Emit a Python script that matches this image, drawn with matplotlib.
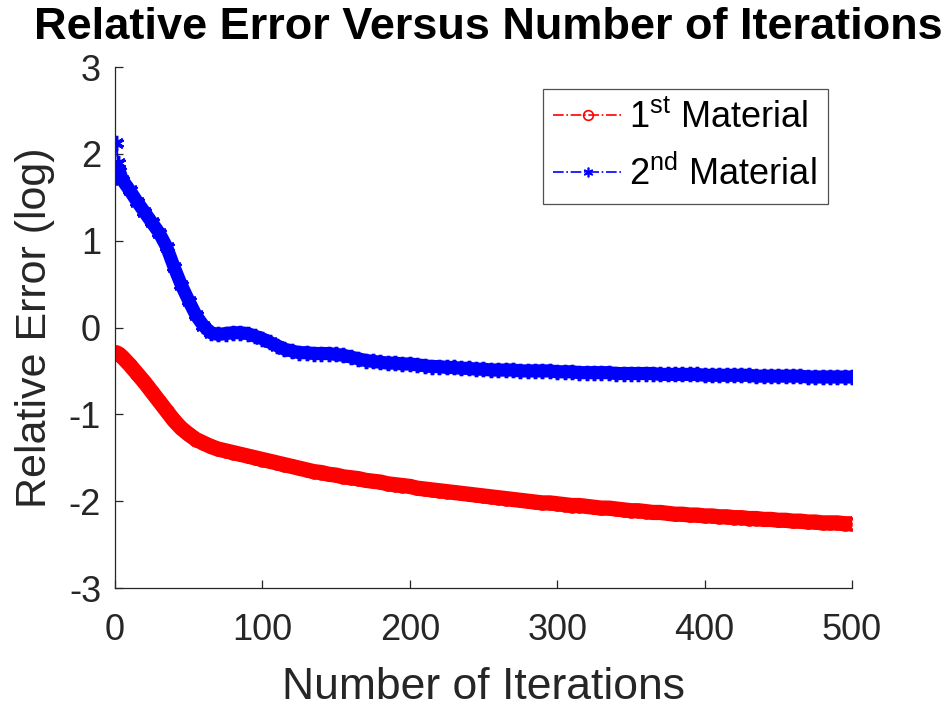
import matplotlib
matplotlib.use('Agg')
import matplotlib.pyplot as plt
import numpy as np

plt.rcParams['font.family'] = ['Liberation Sans', 'DejaVu Sans']
plt.rcParams['mathtext.fontset'] = 'custom'
plt.rcParams['mathtext.rm'] = 'Liberation Sans'
plt.rcParams['mathtext.it'] = 'Liberation Sans:italic'
plt.rcParams['mathtext.bf'] = 'Liberation Sans:bold'
plt.rcParams['axes.unicode_minus'] = False

iters = [1, 2, 3] + list(range(5, 501, 5))

# 1st material, relative error (log)
err_1st = [-0.29, -0.30, -0.31,
           -0.34, -0.43, -0.53, -0.63, -0.74, -0.85, -0.96, -1.07, -1.16, -1.23,
           -1.29, -1.33, -1.37, -1.40, -1.42, -1.44, -1.46, -1.48, -1.50, -1.52,
           -1.54, -1.56, -1.58, -1.60, -1.62, -1.64, -1.66, -1.67, -1.69, -1.70,
           -1.72, -1.73, -1.74, -1.76, -1.77, -1.78, -1.80, -1.81, -1.82, -1.83,
           -1.85, -1.86, -1.87, -1.88, -1.89, -1.90, -1.91, -1.92, -1.93, -1.94,
           -1.95, -1.96, -1.97, -1.98, -1.99, -2.00, -2.01, -2.02, -2.02, -2.03,
           -2.04, -2.05, -2.05, -2.06, -2.07, -2.08, -2.08, -2.09, -2.10, -2.11,
           -2.11, -2.12, -2.13, -2.13, -2.14, -2.15, -2.15, -2.16, -2.16, -2.17,
           -2.17, -2.18, -2.18, -2.19, -2.19, -2.20, -2.20, -2.21, -2.21, -2.22,
           -2.22, -2.23, -2.23, -2.24, -2.24, -2.25, -2.25, -2.25, -2.26, -2.26]

# 2nd material, relative error (log)
err_2nd = [2.12, 1.90, 1.80,
           1.70, 1.58, 1.45, 1.33, 1.21, 1.09, 0.93, 0.70, 0.49, 0.31,
           0.14, 0.02, -0.06, -0.08, -0.07, -0.06, -0.06, -0.07, -0.10, -0.13,
           -0.17, -0.21, -0.25, -0.27, -0.29, -0.29, -0.30, -0.30, -0.30, -0.31,
           -0.32, -0.34, -0.36, -0.38, -0.39, -0.40, -0.41, -0.41, -0.42, -0.42,
           -0.43, -0.44, -0.45, -0.45, -0.46, -0.46, -0.47, -0.47, -0.48, -0.48,
           -0.49, -0.49, -0.49, -0.49, -0.50, -0.50, -0.50, -0.50, -0.50, -0.51,
           -0.51, -0.51, -0.52, -0.52, -0.52, -0.52, -0.52, -0.53, -0.53, -0.53,
           -0.53, -0.53, -0.53, -0.54, -0.54, -0.54, -0.54, -0.54, -0.54, -0.55,
           -0.55, -0.55, -0.55, -0.55, -0.55, -0.55, -0.56, -0.56, -0.56, -0.56,
           -0.56, -0.56, -0.56, -0.57, -0.57, -0.57, -0.57, -0.57, -0.57, -0.57]

xticks = [0, 100, 200, 300, 400, 500]
yticks = [-3, -2, -1, 0, 1, 2, 3]

asterisk = (6, 2, 0)
dark = '#262626'

fig = plt.figure(figsize=(9.47, 7.07), dpi=100)
ax = fig.add_axes([0.1214, 0.1683, 0.7783, 0.7369])

# dense markers in the original merge into a thick band
ax.plot(iters, err_1st, color='red', linewidth=11, solid_capstyle='round',
        solid_joinstyle='round')
ax.plot(iters[2:], err_2nd[2:], color='blue', linewidth=9.5, solid_capstyle='round',
        solid_joinstyle='round')

ax.plot(iters, err_1st, 'r-.', marker='o', markersize=8, markeredgewidth=2.5,
        markerfacecolor='none', linewidth=1.5, label=r'1$^{\rm st}$ Material')
ax.plot(iters, err_2nd, 'b-.', marker=asterisk, markersize=11, markeredgewidth=2.5,
        linewidth=1.5, label=r'2$^{\rm nd}$ Material')

ax.set_xlim(0, 500)
ax.set_ylim(-3, 3)
ax.set_xticks(xticks)
ax.set_yticks(yticks)

for s in ['top', 'right']:
    ax.spines[s].set_visible(False)
for s in ['left', 'bottom']:
    ax.spines[s].set_color(dark)
    ax.spines[s].set_linewidth(0.9)

ax.tick_params(axis='both', direction='in', length=6, width=0.9, color=dark,
               labelcolor=dark, labelsize=26)
ax.tick_params(axis='x', pad=18)
ax.tick_params(axis='y', pad=10)

ax.set_xlabel('Number of Iterations', fontsize=32, color=dark, labelpad=14)
ax.set_ylabel('Relative Error (log)', fontsize=31, color=dark, labelpad=10)
ax.set_title('Relative Error Versus Number of Iterations', fontsize=32.5,
             fontweight='bold', pad=20, x=0.507)

leg = ax.legend(loc='upper right', bbox_to_anchor=(0.967, 0.957), fontsize=26,
                frameon=True, fancybox=False, edgecolor=dark,
                handlelength=1.9, handletextpad=0.2, borderpad=0.3,
                labelspacing=0.55, borderaxespad=0)
leg.get_frame().set_linewidth(0.9)
for h in leg.legend_handles:
    h.set_markersize(7)
    h.set_markeredgewidth(1.2)
    h.set_linewidth(1.2)

fig.savefig('out.png', dpi=100)
